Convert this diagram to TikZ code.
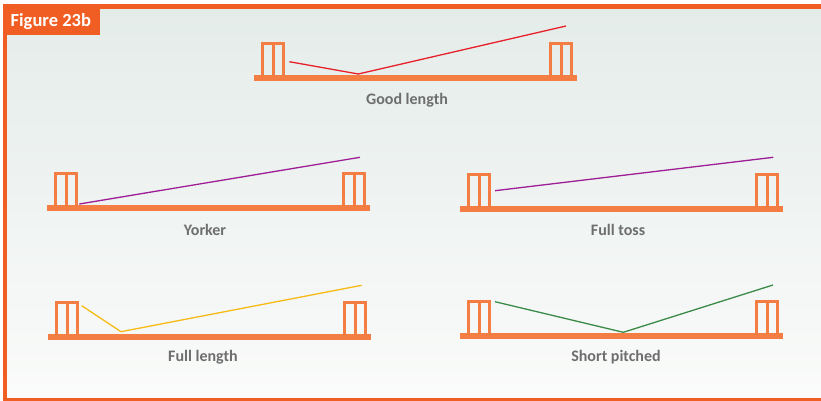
\documentclass[tikz,border=0pt]{standalone}
\usepackage{fontspec}
\setmainfont{Carlito}
\definecolor{framered}{RGB}{241,94,35}
\definecolor{wicketorange}{RGB}{244,125,68}
\definecolor{labelgray}{RGB}{110,110,110}
\definecolor{ballred}{RGB}{232,32,42}
\definecolor{ballpurple}{RGB}{158,30,150}
\definecolor{ballyellow}{RGB}{248,186,22}
\definecolor{ballgreen}{RGB}{58,138,72}
\tikzset{
  wicket/.style={fill=wicketorange},
  ball/.style={line width=1.3pt},
  pitchlabel/.style={text=labelgray, font=\fontsize{16}{18}\selectfont\bfseries, inner sep=0pt}
}

\begin{document}
\begin{tikzpicture}[x=1pt, y=-1pt]
  \useasboundingbox (0,0) rectangle (821,401);
  % panel and frame
  \shade[top color={rgb,255:red,228;green,236;blue,233}, bottom color={rgb,255:red,250;green,251;blue,250}]
    (5,7) rectangle (821,399);
  \fill[framered] (3,4) rectangle (821,9.5);
  \fill[framered] (3,4) rectangle (7,401);
  \fill[framered] (3,398) rectangle (821,401);
  \fill[framered] (3,4) rectangle (100,35);
  \node[text=white, font=\fontsize{18.5}{20}\selectfont\bfseries, anchor=base west, inner sep=0pt]
    (title) at (10.5,26.5) {Figure 23b};
  % pitches with wickets at each end
  \foreach \px/\py in {254/75, 47/205, 460/206, 48/334, 460/333} {
    \fill[wicket] (\px,\py) rectangle ++(323,6);
    \foreach \wx in {7,295} {
      \fill[wicket] (\px+\wx,\py-33) rectangle ++(24,3);
      \foreach \sx in {0,10.5,21}
        \fill[wicket] (\px+\wx+\sx,\py-33) rectangle ++(3,33);
    }
  }
  % labels
  \node[pitchlabel] (lblgood)  at (407,100) {Good length};
  \node[pitchlabel] (lblyork)  at (205,230) {Yorker};
  \node[pitchlabel] (lbltoss)  at (618,230) {Full toss};
  \node[pitchlabel] (lblfull)  at (203,357) {Full length};
  \node[pitchlabel] (lblshort) at (616,357) {Short pitched};
  % ball paths
  \coordinate (good-rel) at (289.3,61.7);
  \coordinate (good-bnc) at (358.3,74);
  \coordinate (good-end) at (566,26);
  \draw[ball, ballred] (good-rel) -- (good-bnc) -- (good-end);
  \coordinate (york-rel) at (79.3,204);
  \coordinate (york-end) at (360,157.3);
  \draw[ball, ballpurple] (york-rel) -- (york-end);
  \coordinate (toss-rel) at (495,190.7);
  \coordinate (toss-end) at (773.3,157.3);
  \draw[ball, ballpurple] (toss-rel) -- (toss-end);
  \coordinate (full-rel) at (81.7,305.7);
  \coordinate (full-bnc) at (121,331.7);
  \coordinate (full-end) at (361.7,285.3);
  \draw[ball, ballyellow] (full-rel) -- (full-bnc) -- (full-end);
  \coordinate (short-rel) at (495,301.7);
  \coordinate (short-bnc) at (623.3,332.3);
  \coordinate (short-end) at (773,285);
  \draw[ball, ballgreen] (short-rel) -- (short-bnc) -- (short-end);
\end{tikzpicture}
\end{document}
